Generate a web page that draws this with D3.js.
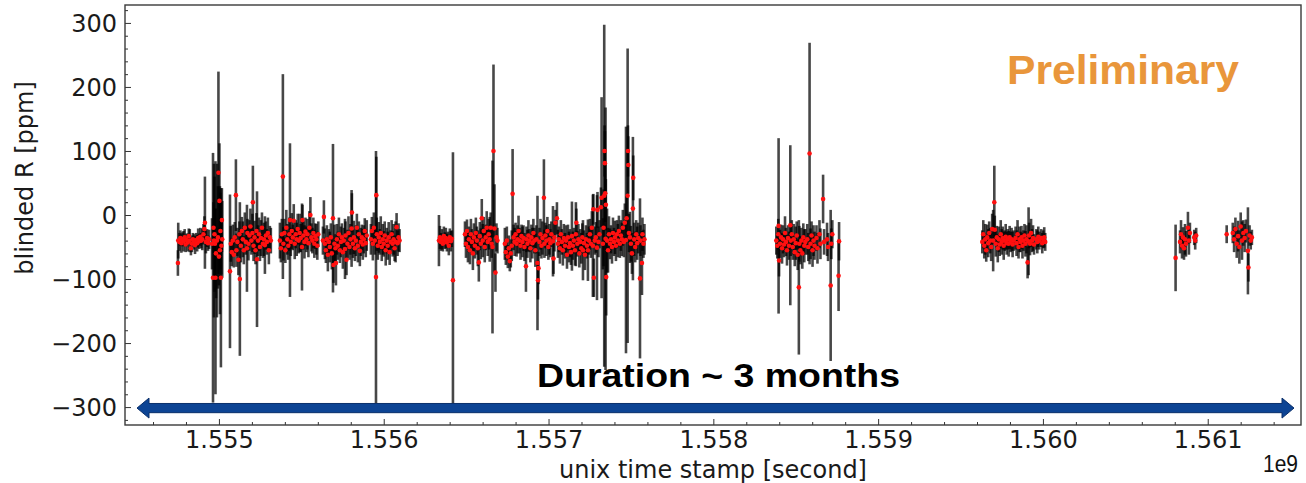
<!DOCTYPE html>
<html><head><meta charset="utf-8">
<script src="https://cdn.jsdelivr.net/npm/d3@7"></script>
<style>html,body{margin:0;padding:0;background:#fff;} svg{display:block;}</style>
</head><body><svg id="c" width="1306" height="483"></svg>
<script>
// Each row: [unix time in units of 1e6 s, blinded R (ppm), error (ppm)]
const runA = [
[1554.751,-75,20],[1554.753,-40,28],[1554.760,-42,14],[1554.766,-36,12],[1554.772,-44,15],[1554.779,-38,11],
[1554.785,-41,16],[1554.792,-35,13],[1554.798,-46,12],[1554.804,-39,10],[1554.811,-43,14],[1554.817,-33,12],
[1554.823,-40,18],[1554.830,-52,11],[1554.836,-45,13],[1554.842,-38,10],[1554.849,-42,12],[1554.855,-47,14],
[1554.861,-39,11],[1554.868,-44,13],[1554.874,-36,15],[1554.880,-41,12],[1554.887,-34,14],[1554.893,-40,12],
[1554.899,-38,17],[1554.906,-30,16],[1554.912,-22,20],[1554.915,-12,72],[1554.921,-42,18],[1554.928,-36,14],
[1554.934,-44,12],[1554.940,-38,15],
[1554.958,-45,40],[1554.964,-98,195],[1554.967,-20,40],[1554.970,-40,120],[1554.973,-30,90],[1554.976,-45,55],
[1554.979,-98,182],[1554.982,-60,70],[1554.988,-40,120],[1554.994,-35,80],[1554.997,66,158],[1555.000,-65,45],
[1555.003,22,90],[1555.006,-55,100],[1555.009,-25,60],[1555.012,-98,140],[1555.015,-48,45],[1555.018,-8,50],[1555.020,-38,60],
[1555.067,-88,120],[1555.072,-45,28],[1555.078,-58,22],[1555.084,-40,25],[1555.090,-62,20],[1555.096,-35,24],
[1555.103,31,56],[1555.106,-55,26],[1555.112,-42,22],[1555.118,-70,24],[1555.124,-30,20],[1555.127,-100,120],
[1555.133,-48,26],[1555.139,-25,22],[1555.145,-38,28],[1555.151,-55,22],[1555.157,-20,24],[1555.163,-42,20],
[1555.170,-52,68],[1555.173,-28,22],[1555.179,-45,26],[1555.185,-32,24],[1555.191,-18,28],[1555.197,-40,22],
[1555.203,-28,30],[1555.206,20,57],[1555.210,-48,24],[1555.216,-35,26],[1555.222,-55,22],[1555.228,-25,28],
[1555.231,-69,106],[1555.237,-40,24],[1555.243,-30,26],[1555.249,-50,22],[1555.255,-36,28],[1555.261,-20,24],
[1555.267,-45,22],[1555.273,-38,26],[1555.279,-47,45],[1555.285,-32,22],[1555.291,-42,20],[1555.297,-28,24],
[1555.303,-55,22],[1555.309,-35,18],[1555.315,-40,20],
[1555.370,-40,28],[1555.376,-52,22],[1555.382,-30,24],[1555.388,60,160],[1555.391,-45,26],[1555.397,-28,22],
[1555.403,-55,20],[1555.409,-20,28],[1555.415,-38,24],[1555.421,-48,22],[1555.427,-30,26],[1555.431,-8,120],
[1555.436,-42,22],[1555.442,-25,28],[1555.448,-35,20],[1555.454,-9,26],[1555.460,-45,24],[1555.466,-30,22],
[1555.472,-38,26],[1555.478,-22,24],[1555.484,-40,20],[1555.490,-28,30],[1555.496,-36,22],[1555.504,-50,68],
[1555.507,-8,24],[1555.513,-32,22],[1555.519,-42,26],[1555.525,-26,22],[1555.531,-38,20],[1555.537,-30,24],
[1555.543,-44,22],[1555.549,-20,26],[1555.555,0,28],[1555.561,-35,22],[1555.567,-40,20],[1555.573,-28,24],
[1555.579,-45,22],[1555.585,-33,20],[1555.591,-38,24],[1555.597,-48,22],[1555.603,-30,20],
[1555.631,-40,22],[1555.637,-3,26],[1555.643,-45,24],[1555.649,-55,20],[1555.655,-38,22],[1555.661,-62,26],
[1555.667,-42,20],[1555.673,-50,24],[1555.679,-35,22],[1555.685,-60,25],[1555.692,-5,116],[1555.695,-78,28],
[1555.701,-45,30],[1555.707,-52,22],[1555.710,-75,35],[1555.716,-38,24],[1555.722,-48,22],[1555.728,-30,26],
[1555.734,-55,20],[1555.740,-42,24],[1555.746,-35,22],[1555.752,-58,26],[1555.758,-40,20],[1555.765,-53,47],
[1555.768,-32,22],[1555.774,-70,24],[1555.780,-45,22],[1555.786,-28,26],[1555.792,-50,20],[1555.798,-38,24],
[1555.805,-21,60],[1555.807,4,30],[1555.813,-45,22],[1555.819,-35,26],[1555.825,-52,20],[1555.831,-40,24],
[1555.837,-20,22],[1555.843,-48,26],[1555.849,-30,20],[1555.855,-56,24],[1555.861,-42,22],[1555.867,-35,20],
[1555.873,-46,24],[1555.879,-38,22],[1555.885,-25,20],[1555.891,-44,22],[1555.897,-32,24],
[1555.922,-38,24],[1555.928,-25,22],[1555.934,-45,26],[1555.940,-20,24],[1555.946,-40,22],[1555.953,-97,197],
[1555.955,31,60],[1555.958,-30,26],[1555.964,-48,22],[1555.970,-35,24],[1555.976,-42,20],[1555.982,-28,26],
[1555.988,-50,22],[1555.994,-38,24],[1556.000,-45,20],[1556.006,-32,22],[1556.012,-55,24],[1556.018,-40,20],
[1556.024,-48,22],[1556.030,-35,24],[1556.036,-58,20],[1556.042,-42,18],[1556.048,-30,22],[1556.054,-45,20],
[1556.060,-38,24],[1556.066,-52,20],[1556.072,-42,32],[1556.078,-19,22],[1556.084,-44,20],[1556.090,-35,22],
[1556.096,-40,18]
];
const runB = [
[1556.335,-40,40],[1556.341,-35,18],[1556.347,-42,14],[1556.353,-38,16],[1556.359,-45,12],[1556.365,-33,15],
[1556.371,-40,13],[1556.377,-36,16],[1556.383,-43,14],[1556.389,-38,12],[1556.395,-48,15],[1556.401,-35,14],
[1556.407,-41,16],[1556.413,-37,13],[1556.420,-102,200],
[1556.493,-30,20],[1556.499,-45,22],[1556.505,-25,18],[1556.511,-50,24],[1556.517,-38,20],[1556.523,-55,22],
[1556.529,-30,24],[1556.535,-42,20],[1556.541,-60,26],[1556.547,-35,22],[1556.553,-48,20],[1556.559,-28,24],
[1556.565,-40,22],[1556.571,-52,28],[1556.577,-74,30],[1556.583,-33,22],[1556.589,-45,24],[1556.595,-5,30],
[1556.601,-40,26],[1556.607,-25,22],[1556.613,-50,24],[1556.619,-35,20],[1556.625,-20,26],[1556.631,-42,22],
[1556.637,-30,24],[1556.643,-38,35],[1556.649,-20,24],[1556.655,-45,22],[1556.660,-50,135],[1556.666,100,135],
[1556.672,-21,69],[1556.678,-90,30],[1556.684,-35,22],[1556.690,-40,20]
];
const runC = [
[1556.735,-45,25],[1556.741,-58,20],[1556.747,-40,22],[1556.753,-65,18],[1556.759,-52,20],[1556.765,-72,16],
[1556.771,-60,22],[1556.777,-48,24],[1556.782,33,70],[1556.788,-35,20],[1556.794,-42,22],[1556.800,-30,18],
[1556.806,-45,20],[1556.812,-38,22],[1556.818,-25,24],[1556.824,-40,20],[1556.830,-48,22],[1556.836,-33,18],
[1556.842,-42,24],[1556.848,-36,20],[1556.854,-50,22],[1556.863,-80,40],[1556.866,-38,20],[1556.872,-45,22],
[1556.878,-32,24],[1556.884,-40,18],[1556.890,-52,22],[1556.896,-35,20],[1556.902,-44,24],[1556.908,-28,22],
[1556.914,-40,20],[1556.920,-55,26],[1556.926,-38,22],[1556.933,-75,105],[1556.936,-102,30],[1556.939,-83,25],
[1556.945,-42,22],[1556.951,-30,24],[1556.957,-48,20],[1556.963,-36,26],[1556.972,27,60],[1556.975,-45,22],
[1556.981,-32,20],[1556.987,-40,24],[1556.993,-25,22],[1556.999,-50,20],[1557.005,-38,24],[1557.011,-44,22],
[1557.017,-30,20],[1557.027,-41,55],[1557.030,-68,24],[1557.036,-35,22],[1557.042,-12,20],[1557.051,-5,25],
[1557.057,-45,22],[1557.063,-38,20],[1557.069,-52,24],[1557.075,-30,22],[1557.081,-42,20],[1557.087,-55,24],
[1557.093,-36,22],[1557.100,-48,20],[1557.106,-40,24],[1557.112,-62,22],[1557.118,-35,20],[1557.124,-50,24],
[1557.130,-44,22],[1557.136,-58,20],[1557.142,-33,54],[1557.148,-48,22],[1557.154,-40,20],[1557.160,-55,24],
[1557.166,-30,50],[1557.169,-12,22],[1557.175,-45,20],[1557.181,-38,24],[1557.187,-60,22],[1557.193,-42,20],
[1557.199,-52,24],[1557.205,-35,22],[1557.209,-55,47],[1557.215,-44,20],[1557.221,-62,24],[1557.227,-38,22],
[1557.233,-48,20],[1557.239,-55,48],[1557.245,-40,22],[1557.251,-30,24],[1557.257,-45,22],[1557.263,-20,26],
[1557.269,-48,80],[1557.272,9,24],[1557.275,-98,30],[1557.281,-40,22],[1557.287,-35,24],[1557.294,-51,82],
[1557.297,8,28],[1557.303,-42,24],[1557.309,-30,22],[1557.318,12,31],[1557.322,27,157],[1557.330,-45,40],
[1557.334,-20,60],[1557.338,30,267],[1557.340,100,40],[1557.342,81,50],[1557.344,34,45],[1557.346,-37,205],
[1557.348,16,40],[1557.350,-97,60],[1557.355,-40,50],[1557.361,-55,35],[1557.367,-30,28],[1557.373,-45,24],
[1557.379,-38,22],[1557.385,-50,26],[1557.391,-28,24],[1557.397,-42,22],[1557.403,-35,26],[1557.409,-48,24],
[1557.415,-30,22],[1557.421,-40,26],[1557.427,-25,24],[1557.433,-45,22],[1557.439,-32,24],[1557.445,-38,26],
[1557.451,-20,28],[1557.457,-42,24],[1557.463,-12,30],[1557.470,-39,177],[1557.474,-5,35],[1557.480,30,230],
[1557.482,100,40],[1557.484,78,45],[1557.488,-28,30],[1557.494,-35,40],[1557.500,-45,28],[1557.506,-60,32],
[1557.512,10,112],[1557.514,58,35],[1557.520,-38,26],[1557.526,-50,24],[1557.532,-30,22],[1557.538,-44,26],
[1557.544,-36,24],[1557.555,-99,125],[1557.558,-40,24],[1557.567,-75,50],[1557.570,-30,26],[1557.576,-45,22],
[1557.582,-38,24]
];
const runD = [
[1558.382,-40,22],[1558.388,-48,20],[1558.394,-30,24],[1558.396,-17,137],[1558.399,-71,25],[1558.405,-45,22],
[1558.411,-35,20],[1558.417,-52,24],[1558.423,-38,22],[1558.429,-46,20],[1558.435,-28,26],[1558.441,-42,22],
[1558.447,-55,24],[1558.453,-36,20],[1558.459,-48,22],[1558.467,-16,125],[1558.470,-40,24],[1558.476,-30,22],
[1558.482,-50,20],[1558.488,-38,24],[1558.494,-58,22],[1558.500,-44,26],[1558.506,-32,22],[1558.512,-62,24],
[1558.519,-113,105],[1558.522,-45,28],[1558.528,-55,22],[1558.534,-40,20],[1558.540,-60,24],[1558.546,-35,22],
[1558.552,-48,26],[1558.558,-42,20],[1558.570,-38,24],[1558.576,-50,22],[1558.584,96,173],[1558.590,-45,24],
[1558.596,-32,22],[1558.602,-55,26],[1558.608,-40,24],[1558.614,-48,22],[1558.626,-36,20],[1558.632,-52,24],
[1558.644,-30,22],[1558.650,-45,24],[1558.666,25,38],[1558.672,-42,20],[1558.690,-38,26],[1558.696,-50,22],
[1558.712,-110,118],[1558.716,-45,24],[1558.722,-30,22],[1558.760,-95,55],[1558.763,-41,30]
];
const runE = [
[1559.632,-42,18],[1559.638,-30,22],[1559.644,-48,20],[1559.650,-38,24],[1559.656,-55,18],[1559.662,-35,20],
[1559.668,-44,22],[1559.674,-28,18],[1559.680,-40,20],[1559.686,-50,22],[1559.692,-22,24],[1559.698,-40,48],
[1559.705,20,57],[1559.708,-23,22],[1559.714,-45,20],[1559.720,-35,18],[1559.726,-52,22],[1559.732,-38,20],
[1559.738,-46,18],[1559.744,-30,22],[1559.750,-42,20],[1559.756,-36,18],[1559.762,-48,22],[1559.768,-40,16],
[1559.774,-34,20],[1559.780,-44,18],[1559.786,-38,16],[1559.792,-45,20],[1559.798,-35,18],[1559.804,-42,16],
[1559.810,-38,18],[1559.816,-46,20],[1559.822,-40,16],[1559.834,-36,18],[1559.840,-44,20],[1559.846,-30,22],
[1559.852,-50,18],[1559.858,-38,20],[1559.864,-42,16],[1559.870,-35,18],[1559.876,-48,20],[1559.882,-40,16],
[1559.888,-32,18],[1559.894,-45,20],[1559.900,-38,22],[1559.907,-74,25],[1559.913,-41,53],[1559.916,-32,20],
[1559.922,-45,18],[1559.928,-28,22],[1559.934,-40,18],[1559.940,-36,20],[1559.946,-46,16],[1559.960,-38,16],
[1559.966,-42,18],[1559.972,-34,16],[1559.978,-40,14],[1559.990,-36,14],[1559.996,-44,16],[1560.002,-38,14],
[1560.008,-35,16],[1560.014,-42,14]
];
const runF = [
[1560.805,-67,52],[1560.832,-42,18],[1560.838,-30,22],[1560.844,-48,20],[1560.850,-35,16],[1560.856,-52,18],
[1560.862,-38,24],[1560.868,-45,20],[1560.880,-20,25],[1560.886,-40,22],[1560.892,-28,16],[1560.918,-35,12],
[1560.924,-40,14],[1560.930,-32,12],[1561.115,-30,14],
[1561.152,-28,16],[1561.160,-38,20],[1561.168,-22,18],[1561.176,-45,22],[1561.184,-33,24],[1561.192,-50,26],
[1561.200,-18,22],[1561.208,-40,30],[1561.216,-28,20],[1561.224,-36,22],[1561.232,-25,18],[1561.244,-56,68],
[1561.247,-82,22],[1561.254,-32,16],[1561.261,-40,14],[1561.268,-35,12]
];

const xMajorTicks = [1555,1556,1557,1558,1559,1560,1561];
const yMajorTicks = [-300,-200,-100,0,100,200,300];
const xLabelText = "unix time stamp [second]";
const yLabelText = "blinded R [ppm]";
const offsetText = "1e9";
const durationText = "Duration ~ 3 months";
const prelimText = "Preliminary";

const svg = d3.select("#c");
const L = 125, R = 1301, T = 5, B = 425;
const x = d3.scaleLinear().domain([1554.430, 1561.566]).range([L, R]);
const y = d3.scaleLinear().domain([-328, 328]).range([B, T]);

const data = [].concat(runA, runB, runC, runD, runE, runF);

// minor ticks
const xMinor = d3.range(1554.6, 1561.5, 0.2).filter(v => Math.abs(v - Math.round(v)) > 0.01);
const yMinor = d3.range(-320, 321, 20).filter(v => v % 100 !== 0);

const gx = svg.append("g").attr("transform", `translate(0,${B})`);
gx.call(d3.axisBottom(x).tickValues(xMinor).tickSize(-3).tickFormat(""));
const gx2 = svg.append("g").attr("transform", `translate(0,${B})`);
gx2.call(d3.axisBottom(x).tickValues(xMajorTicks).tickSize(-6).tickPadding(6)
  .tickFormat(v => (v / 1000).toFixed(3)));
const gy = svg.append("g").attr("transform", `translate(${L},0)`);
gy.call(d3.axisLeft(y).tickValues(yMinor).tickSize(-3).tickFormat(""));
const gy2 = svg.append("g").attr("transform", `translate(${L},0)`);
gy2.call(d3.axisLeft(y).tickValues(yMajorTicks).tickSize(-6).tickPadding(8)
  .tickFormat(v => v < 0 ? "\u2212" + Math.abs(v) : String(v)));
svg.selectAll(".domain").remove();
svg.selectAll(".tick line").attr("stroke", "#333").attr("stroke-width", 1);
svg.selectAll(".tick text").attr("font-family", "DejaVu Sans").attr("font-size", 24).attr("fill", "#1a1a1a");
gy2.selectAll(".tick text").attr("dy", "0.36em");

// error bars
const plot = svg.append("g");
plot.append("g").selectAll("line").data(data).join("line")
  .attr("x1", d => x(d[0])).attr("x2", d => x(d[0]))
  .attr("y1", d => y(d[1] + d[2])).attr("y2", d => y(d[1] - d[2]))
  .attr("stroke", "#000").attr("stroke-opacity", 0.72).attr("stroke-width", 2.6);
plot.append("g").selectAll("circle").data(data).join("circle")
  .attr("cx", d => x(d[0])).attr("cy", d => y(d[1])).attr("r", 2.3)
  .attr("fill", "#ff1010");

// frame
svg.append("rect").attr("x", L).attr("y", T).attr("width", R - L).attr("height", B - T)
  .attr("fill", "none").attr("stroke", "#3a3a3a").attr("stroke-width", 1.4);

// labels
svg.append("text").attr("x", (L + R) / 2).attr("y", 478).attr("text-anchor", "middle")
  .attr("font-family", "DejaVu Sans").attr("font-size", 24).attr("fill", "#1a1a1a").text(xLabelText);
svg.append("text").attr("transform", "translate(33,178) rotate(-90)").attr("text-anchor", "middle")
  .attr("font-family", "DejaVu Sans").attr("font-size", 24).attr("fill", "#1a1a1a").text(yLabelText);
svg.append("text").attr("x", 1263).attr("y", 472)
  .attr("font-family", "Liberation Sans, Arial, sans-serif").attr("font-size", 24).attr("fill", "#111")
  .attr("textLength", 35).attr("lengthAdjust", "spacingAndGlyphs").text(offsetText);

// duration arrow
const ay = y(-300) + 1;
const ax0 = 137, ax1 = 1294, hl = 12, hw = 10, sw = 4.6;
svg.append("path")
  .attr("d", `M${ax0},${ay} L${ax0 + hl},${ay - hw} L${ax0 + hl},${ay - sw} L${ax1 - hl},${ay - sw} L${ax1 - hl},${ay - hw} L${ax1},${ay} L${ax1 - hl},${ay + hw} L${ax1 - hl},${ay + sw} L${ax0 + hl},${ay + sw} L${ax0 + hl},${ay + hw} Z`)
  .attr("fill", "#0d4494").attr("stroke", "#0a2f6a").attr("stroke-width", 1);
svg.append("text").attr("x", 537).attr("y", 387)
  .attr("font-family", "Liberation Sans, Arial, sans-serif").attr("font-weight", "bold").attr("font-size", 34)
  .attr("fill", "#000").attr("textLength", 363).attr("lengthAdjust", "spacingAndGlyphs").text(durationText);
svg.append("text").attr("x", 1007).attr("y", 84)
  .attr("font-family", "Liberation Sans, Arial, sans-serif").attr("font-weight", "bold").attr("font-size", 41)
  .attr("fill", "#e9963b").attr("textLength", 232).attr("lengthAdjust", "spacingAndGlyphs").text(prelimText);
</script></body></html>
